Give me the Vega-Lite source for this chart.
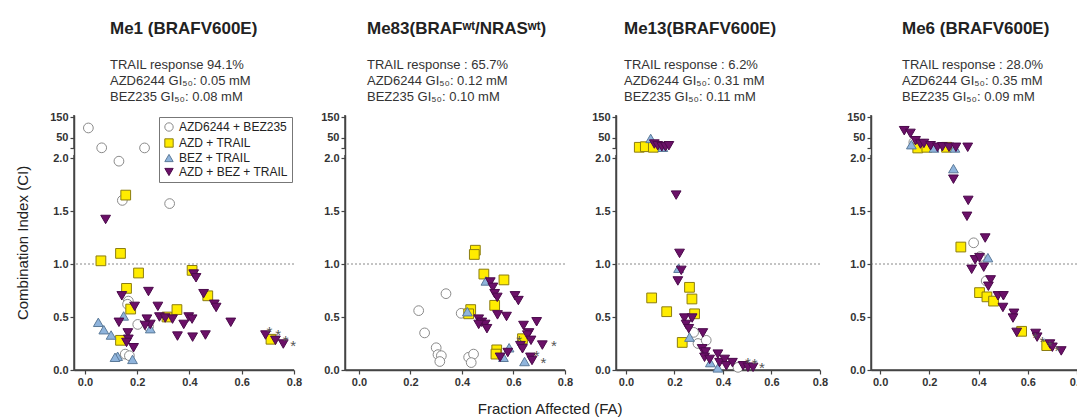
{
"$schema": "https://vega.github.io/schema/vega-lite/v6.json",
"background": "white",
"padding": {"left": 15, "top": 20, "right": 0, "bottom": 4},
"title": {"text": "Fraction Affected (FA)", "orient": "bottom", "anchor": "middle", "fontSize": 15, "fontWeight": "normal", "color": "#222", "dx": 0, "offset": 15},
"bounds": "flush",
"spacing": 51,
"resolve": {"scale": {"shape": "independent", "fill": "independent", "stroke": "independent"}, "legend": {"shape": "independent", "fill": "independent", "stroke": "independent"}},
"hconcat": [
{
 "title": {"text": "Me1 (BRAFV600E)", "subtitle": ["TRAIL response 94.1%", "AZD6244  GI₅₀: 0.05 mM", "BEZ235 GI₅₀: 0.08 mM"], "frame": "group", "fontWeight": "bold", "fontSize": 17, "subtitleFontSize": 13, "subtitleLineHeight": 16, "subtitleColor": "#333", "subtitlePadding": 21, "anchor": "start", "dx": 36, "offset": 6},
 "width": 220, "height": 255,
 "encoding": {
  "y": {"field": "ci", "type": "quantitative", "scale": {"domain": [0, 2, 2.1, 160], "range": [255, 43, 33, 0], "nice": false, "zero": false}, "axis": {"values": [0, 0.5, 1, 1.5, 2, 2.1, 50, 150], "labelExpr": "datum.value == 2.1 ? '' : (datum.value >= 50 ? format(datum.value, 'd') : format(datum.value, '.1f'))", "title": "Combination Index (CI)", "titleFontSize": 15, "titleFontWeight": "normal", "titleColor": "#222", "titlePadding": 19, "labelOverlap": false, "labelFlush": false, "labelFontWeight": "bold", "domain": true, "ticks": true, "domainColor": "#444", "tickColor": "#444"}}
 },
 "layer": [
  {"data": {"values": [{"ci": 1}]}, "mark": {"type": "rule", "color": "#888", "strokeDash": [2, 2], "strokeWidth": 1}, "encoding": {}},
  {"data": {"values": [{"ci": 0}]}, "mark": {"type": "rule", "color": "#444", "strokeWidth": 1.5}, "encoding": {}},
  {"data": {"values": [{"fa": -0.042, "ci": 0, "ci_top": 2.03}, {"fa": -0.042, "ci": 2.09, "ci_top": 160}]}, "mark": {"type": "rule", "color": "#444", "strokeWidth": 1.5}, "encoding": {"x": {"field": "fa", "type": "quantitative"}, "y2": {"field": "ci_top"}}},
  {"data": {"name": "pts"}, "transform": [{"filter": "datum.cell == 'Me1'"}],
   "mark": {"type": "point", "filled": true, "size": 95, "strokeWidth": 1, "opacity": 1},
   "encoding": {
    "x": {"field": "fa", "type": "quantitative", "scale": {"domain": [-0.042, 0.8], "nice": false, "zero": false}, "axis": {"values": [0, 0.2, 0.4, 0.6, 0.8], "format": ".1f", "title": null, "labelFlush": false, "labelFontWeight": "bold", "domain": true, "ticks": true, "domainColor": "#444", "tickColor": "#444"}},
    "shape": {"field": "combo", "type": "nominal", "scale": {"domain": ["AZD6244 + BEZ235", "AZD + TRAIL", "BEZ + TRAIL", "AZD + BEZ + TRAIL"], "range": ["circle", "square", "triangle-up", "triangle-down"]}, "legend": {"orient": "top-right", "offset": 2, "title": null}},
    "fill": {"field": "combo", "type": "nominal", "scale": {"domain": ["AZD6244 + BEZ235", "AZD + TRAIL", "BEZ + TRAIL", "AZD + BEZ + TRAIL"], "range": ["#ffffff", "#ffec00", "#8fb4dc", "#6b1068"]}, "legend": {"orient": "top-right", "offset": 2, "title": null}},
    "stroke": {"field": "combo", "type": "nominal", "scale": {"domain": ["AZD6244 + BEZ235", "AZD + TRAIL", "BEZ + TRAIL", "AZD + BEZ + TRAIL"], "range": ["#8a8a8a", "#8c7d10", "#5b7a99", "#4b0a4b"]}, "legend": {"orient": "top-right", "offset": 2, "title": null}}
   }},
  {"data": {"name": "stars"}, "transform": [{"filter": "datum.cell == 'Me1'"}], "mark": {"type": "text", "text": "*", "fontSize": 15, "color": "#555", "dy": 4}, "encoding": {"x": {"field": "fa", "type": "quantitative"}}}
 ]
},
{
 "title": {"text": "Me83(BRAFʷᵗ/NRASʷᵗ)", "subtitle": ["TRAIL response : 65.7%", "AZD6244  GI₅₀: 0.12 mM", "BEZ235 GI₅₀: 0.10 mM"], "frame": "group", "fontWeight": "bold", "fontSize": 17, "subtitleFontSize": 13, "subtitleLineHeight": 16, "subtitleColor": "#333", "subtitlePadding": 21, "anchor": "start", "dx": 22, "offset": 6},
 "width": 220, "height": 255,
 "encoding": {
  "y": {"field": "ci", "type": "quantitative", "scale": {"domain": [0, 2, 2.1, 160], "range": [255, 43, 33, 0], "nice": false, "zero": false}, "axis": {"values": [0, 0.5, 1, 1.5, 2, 2.1, 50, 150], "labelExpr": "datum.value == 2.1 ? '' : (datum.value >= 50 ? format(datum.value, 'd') : format(datum.value, '.1f'))", "title": null, "labelOverlap": false, "labelFlush": false, "labelFontWeight": "bold", "domain": true, "ticks": true, "domainColor": "#444", "tickColor": "#444"}}
 },
 "layer": [
  {"data": {"values": [{"ci": 1}]}, "mark": {"type": "rule", "color": "#888", "strokeDash": [2, 2], "strokeWidth": 1}, "encoding": {}},
  {"data": {"values": [{"ci": 0}]}, "mark": {"type": "rule", "color": "#444", "strokeWidth": 1.5}, "encoding": {}},
  {"data": {"values": [{"fa": -0.054, "ci": 0, "ci_top": 2.03}, {"fa": -0.054, "ci": 2.09, "ci_top": 160}]}, "mark": {"type": "rule", "color": "#444", "strokeWidth": 1.5}, "encoding": {"x": {"field": "fa", "type": "quantitative"}, "y2": {"field": "ci_top"}}},
  {"data": {"name": "pts"}, "transform": [{"filter": "datum.cell == 'Me83'"}],
   "mark": {"type": "point", "filled": true, "size": 95, "strokeWidth": 1, "opacity": 1},
   "encoding": {
    "x": {"field": "fa", "type": "quantitative", "scale": {"domain": [-0.054, 0.8], "nice": false, "zero": false}, "axis": {"values": [0, 0.2, 0.4, 0.6, 0.8], "format": ".1f", "title": null, "labelFlush": false, "labelFontWeight": "bold", "domain": true, "ticks": true, "domainColor": "#444", "tickColor": "#444"}},
    "shape": {"field": "combo", "type": "nominal", "scale": {"domain": ["AZD6244 + BEZ235", "AZD + TRAIL", "BEZ + TRAIL", "AZD + BEZ + TRAIL"], "range": ["circle", "square", "triangle-up", "triangle-down"]}, "legend": null},
    "fill": {"field": "combo", "type": "nominal", "scale": {"domain": ["AZD6244 + BEZ235", "AZD + TRAIL", "BEZ + TRAIL", "AZD + BEZ + TRAIL"], "range": ["#ffffff", "#ffec00", "#8fb4dc", "#6b1068"]}, "legend": null},
    "stroke": {"field": "combo", "type": "nominal", "scale": {"domain": ["AZD6244 + BEZ235", "AZD + TRAIL", "BEZ + TRAIL", "AZD + BEZ + TRAIL"], "range": ["#8a8a8a", "#8c7d10", "#5b7a99", "#4b0a4b"]}, "legend": null}
   }},
  {"data": {"name": "stars"}, "transform": [{"filter": "datum.cell == 'Me83'"}], "mark": {"type": "text", "text": "*", "fontSize": 15, "color": "#555", "dy": 4}, "encoding": {"x": {"field": "fa", "type": "quantitative"}}}
 ]
},
{
 "title": {"text": "Me13(BRAFV600E)", "subtitle": ["TRAIL response : 6.2%", "AZD6244  GI₅₀: 0.31 mM", "BEZ235 GI₅₀: 0.11 mM"], "frame": "group", "fontWeight": "bold", "fontSize": 17, "subtitleFontSize": 13, "subtitleLineHeight": 16, "subtitleColor": "#333", "subtitlePadding": 21, "anchor": "start", "dx": 8, "offset": 6},
 "width": 204, "height": 255,
 "encoding": {
  "y": {"field": "ci", "type": "quantitative", "scale": {"domain": [0, 2, 2.1, 160], "range": [255, 43, 33, 0], "nice": false, "zero": false}, "axis": {"values": [0, 0.5, 1, 1.5, 2, 2.1, 50, 150], "labelExpr": "datum.value == 2.1 ? '' : (datum.value >= 50 ? format(datum.value, 'd') : format(datum.value, '.1f'))", "title": null, "labelOverlap": false, "labelFlush": false, "labelFontWeight": "bold", "domain": true, "ticks": true, "domainColor": "#444", "tickColor": "#444"}}
 },
 "layer": [
  {"data": {"values": [{"ci": 1}]}, "mark": {"type": "rule", "color": "#888", "strokeDash": [2, 2], "strokeWidth": 1}, "encoding": {}},
  {"data": {"values": [{"ci": 0}]}, "mark": {"type": "rule", "color": "#444", "strokeWidth": 1.5}, "encoding": {}},
  {"data": {"values": [{"fa": -0.041, "ci": 0, "ci_top": 2.03}, {"fa": -0.041, "ci": 2.09, "ci_top": 160}]}, "mark": {"type": "rule", "color": "#444", "strokeWidth": 1.5}, "encoding": {"x": {"field": "fa", "type": "quantitative"}, "y2": {"field": "ci_top"}}},
  {"data": {"name": "pts"}, "transform": [{"filter": "datum.cell == 'Me13'"}],
   "mark": {"type": "point", "filled": true, "size": 95, "strokeWidth": 1, "opacity": 1},
   "encoding": {
    "x": {"field": "fa", "type": "quantitative", "scale": {"domain": [-0.041, 0.8], "nice": false, "zero": false}, "axis": {"values": [0, 0.2, 0.4, 0.6, 0.8], "format": ".1f", "title": null, "labelFlush": false, "labelFontWeight": "bold", "domain": true, "ticks": true, "domainColor": "#444", "tickColor": "#444"}},
    "shape": {"field": "combo", "type": "nominal", "scale": {"domain": ["AZD6244 + BEZ235", "AZD + TRAIL", "BEZ + TRAIL", "AZD + BEZ + TRAIL"], "range": ["circle", "square", "triangle-up", "triangle-down"]}, "legend": null},
    "fill": {"field": "combo", "type": "nominal", "scale": {"domain": ["AZD6244 + BEZ235", "AZD + TRAIL", "BEZ + TRAIL", "AZD + BEZ + TRAIL"], "range": ["#ffffff", "#ffec00", "#8fb4dc", "#6b1068"]}, "legend": null},
    "stroke": {"field": "combo", "type": "nominal", "scale": {"domain": ["AZD6244 + BEZ235", "AZD + TRAIL", "BEZ + TRAIL", "AZD + BEZ + TRAIL"], "range": ["#8a8a8a", "#8c7d10", "#5b7a99", "#4b0a4b"]}, "legend": null}
   }},
  {"data": {"name": "stars"}, "transform": [{"filter": "datum.cell == 'Me13'"}], "mark": {"type": "text", "text": "*", "fontSize": 15, "color": "#555", "dy": 4}, "encoding": {"x": {"field": "fa", "type": "quantitative"}}}
 ]
},
{
 "title": {"text": "Me6 (BRAFV600E)", "subtitle": ["TRAIL response : 28.0%", "AZD6244  GI₅₀: 0.35 mM", "BEZ235 GI₅₀: 0.09 mM"], "frame": "group", "fontWeight": "bold", "fontSize": 17, "subtitleFontSize": 13, "subtitleLineHeight": 16, "subtitleColor": "#333", "subtitlePadding": 21, "anchor": "start", "dx": 31, "offset": 6},
 "width": 206, "height": 255,
 "encoding": {
  "y": {"field": "ci", "type": "quantitative", "scale": {"domain": [0, 2, 2.1, 160], "range": [255, 43, 33, 0], "nice": false, "zero": false}, "axis": {"values": [0, 0.5, 1, 1.5, 2, 2.1, 50, 150], "labelExpr": "datum.value == 2.1 ? '' : (datum.value >= 50 ? format(datum.value, 'd') : format(datum.value, '.1f'))", "title": null, "labelOverlap": false, "labelFlush": false, "labelFontWeight": "bold", "domain": true, "ticks": true, "domainColor": "#444", "tickColor": "#444"}}
 },
 "layer": [
  {"data": {"values": [{"ci": 1}]}, "mark": {"type": "rule", "color": "#888", "strokeDash": [2, 2], "strokeWidth": 1}, "encoding": {}},
  {"data": {"values": [{"ci": 0}]}, "mark": {"type": "rule", "color": "#444", "strokeWidth": 1.5}, "encoding": {}},
  {"data": {"values": [{"fa": -0.037, "ci": 0, "ci_top": 2.03}, {"fa": -0.037, "ci": 2.09, "ci_top": 160}]}, "mark": {"type": "rule", "color": "#444", "strokeWidth": 1.5}, "encoding": {"x": {"field": "fa", "type": "quantitative"}, "y2": {"field": "ci_top"}}},
  {"data": {"name": "pts"}, "transform": [{"filter": "datum.cell == 'Me6'"}],
   "mark": {"type": "point", "filled": true, "size": 95, "strokeWidth": 1, "opacity": 1},
   "encoding": {
    "x": {"field": "fa", "type": "quantitative", "scale": {"domain": [-0.037, 0.8], "nice": false, "zero": false}, "axis": {"values": [0, 0.2, 0.4, 0.6, 0.8], "format": ".1f", "title": null, "labelFlush": false, "labelFontWeight": "bold", "domain": true, "ticks": true, "domainColor": "#444", "tickColor": "#444"}},
    "shape": {"field": "combo", "type": "nominal", "scale": {"domain": ["AZD6244 + BEZ235", "AZD + TRAIL", "BEZ + TRAIL", "AZD + BEZ + TRAIL"], "range": ["circle", "square", "triangle-up", "triangle-down"]}, "legend": null},
    "fill": {"field": "combo", "type": "nominal", "scale": {"domain": ["AZD6244 + BEZ235", "AZD + TRAIL", "BEZ + TRAIL", "AZD + BEZ + TRAIL"], "range": ["#ffffff", "#ffec00", "#8fb4dc", "#6b1068"]}, "legend": null},
    "stroke": {"field": "combo", "type": "nominal", "scale": {"domain": ["AZD6244 + BEZ235", "AZD + TRAIL", "BEZ + TRAIL", "AZD + BEZ + TRAIL"], "range": ["#8a8a8a", "#8c7d10", "#5b7a99", "#4b0a4b"]}, "legend": null}
   }},
  {"data": {"name": "stars"}, "transform": [{"filter": "datum.cell == 'Me6'"}], "mark": {"type": "text", "text": "*", "fontSize": 15, "color": "#555", "dy": 4}, "encoding": {"x": {"field": "fa", "type": "quantitative"}}}
 ]
}
],
"datasets": {
"stars": [
 {"cell": "Me1", "fa": 0.706, "ci": 0.40}, {"cell": "Me1", "fa": 0.739, "ci": 0.365}, {"cell": "Me1", "fa": 0.768, "ci": 0.31}, {"cell": "Me1", "fa": 0.797, "ci": 0.26},
 {"cell": "Me83", "fa": 0.622, "ci": 0.31}, {"cell": "Me83", "fa": 0.757, "ci": 0.26}, {"cell": "Me83", "fa": 0.69, "ci": 0.17}, {"cell": "Me83", "fa": 0.716, "ci": 0.10},
 {"cell": "Me13", "fa": 0.503, "ci": 0.10}, {"cell": "Me13", "fa": 0.531, "ci": 0.09}, {"cell": "Me13", "fa": 0.561, "ci": 0.06},
 {"cell": "Me6", "fa": 0.63, "ci": 0.34}, {"cell": "Me6", "fa": 0.66, "ci": 0.30}, {"cell": "Me6", "fa": 0.69, "ci": 0.265}, {"cell": "Me6", "fa": 0.72, "ci": 0.22}
],
"pts": [
 {"cell": "Me1", "combo": "AZD6244 + BEZ235", "fa": 0.013, "ci": 98},
 {"cell": "Me1", "combo": "AZD6244 + BEZ235", "fa": 0.064, "ci": 3},
 {"cell": "Me1", "combo": "AZD6244 + BEZ235", "fa": 0.13, "ci": 1.97},
 {"cell": "Me1", "combo": "AZD6244 + BEZ235", "fa": 0.228, "ci": 2.5},
 {"cell": "Me1", "combo": "AZD6244 + BEZ235", "fa": 0.324, "ci": 1.57},
 {"cell": "Me1", "combo": "AZD6244 + BEZ235", "fa": 0.143, "ci": 1.60},
 {"cell": "Me1", "combo": "AZD6244 + BEZ235", "fa": 0.166, "ci": 0.65},
 {"cell": "Me1", "combo": "AZD6244 + BEZ235", "fa": 0.163, "ci": 0.62},
 {"cell": "Me1", "combo": "AZD6244 + BEZ235", "fa": 0.202, "ci": 0.43},
 {"cell": "Me1", "combo": "AZD6244 + BEZ235", "fa": 0.154, "ci": 0.15},
 {"cell": "Me1", "combo": "AZD6244 + BEZ235", "fa": 0.17, "ci": 0.135},
 {"cell": "Me1", "combo": "AZD6244 + BEZ235", "fa": 0.243, "ci": 0.41},
 {"cell": "Me1", "combo": "AZD + TRAIL", "fa": 0.156, "ci": 1.65},
 {"cell": "Me1", "combo": "AZD + TRAIL", "fa": 0.061, "ci": 1.03},
 {"cell": "Me1", "combo": "AZD + TRAIL", "fa": 0.136, "ci": 1.10},
 {"cell": "Me1", "combo": "AZD + TRAIL", "fa": 0.159, "ci": 0.77},
 {"cell": "Me1", "combo": "AZD + TRAIL", "fa": 0.175, "ci": 0.575},
 {"cell": "Me1", "combo": "AZD + TRAIL", "fa": 0.205, "ci": 0.915},
 {"cell": "Me1", "combo": "AZD + TRAIL", "fa": 0.136, "ci": 0.28},
 {"cell": "Me1", "combo": "AZD + TRAIL", "fa": 0.314, "ci": 0.50},
 {"cell": "Me1", "combo": "AZD + TRAIL", "fa": 0.352, "ci": 0.57},
 {"cell": "Me1", "combo": "AZD + TRAIL", "fa": 0.41, "ci": 0.94},
 {"cell": "Me1", "combo": "AZD + TRAIL", "fa": 0.47, "ci": 0.70},
 {"cell": "Me1", "combo": "AZD + TRAIL", "fa": 0.712, "ci": 0.29},
 {"cell": "Me1", "combo": "BEZ + TRAIL", "fa": 0.051, "ci": 0.45},
 {"cell": "Me1", "combo": "BEZ + TRAIL", "fa": 0.072, "ci": 0.38},
 {"cell": "Me1", "combo": "BEZ + TRAIL", "fa": 0.10, "ci": 0.33},
 {"cell": "Me1", "combo": "BEZ + TRAIL", "fa": 0.148, "ci": 0.51},
 {"cell": "Me1", "combo": "BEZ + TRAIL", "fa": 0.125, "ci": 0.13},
 {"cell": "Me1", "combo": "BEZ + TRAIL", "fa": 0.115, "ci": 0.12},
 {"cell": "Me1", "combo": "BEZ + TRAIL", "fa": 0.182, "ci": 0.10},
 {"cell": "Me1", "combo": "BEZ + TRAIL", "fa": 0.25, "ci": 0.39},
 {"cell": "Me1", "combo": "AZD + BEZ + TRAIL", "fa": 0.079, "ci": 1.42},
 {"cell": "Me1", "combo": "AZD + BEZ + TRAIL", "fa": 0.141, "ci": 0.70},
 {"cell": "Me1", "combo": "AZD + BEZ + TRAIL", "fa": 0.13, "ci": 0.45},
 {"cell": "Me1", "combo": "AZD + BEZ + TRAIL", "fa": 0.19, "ci": 0.60},
 {"cell": "Me1", "combo": "AZD + BEZ + TRAIL", "fa": 0.164, "ci": 0.35},
 {"cell": "Me1", "combo": "AZD + BEZ + TRAIL", "fa": 0.166, "ci": 0.29},
 {"cell": "Me1", "combo": "AZD + BEZ + TRAIL", "fa": 0.159, "ci": 0.26},
 {"cell": "Me1", "combo": "AZD + BEZ + TRAIL", "fa": 0.186, "ci": 0.21},
 {"cell": "Me1", "combo": "AZD + BEZ + TRAIL", "fa": 0.243, "ci": 0.74},
 {"cell": "Me1", "combo": "AZD + BEZ + TRAIL", "fa": 0.237, "ci": 0.48},
 {"cell": "Me1", "combo": "AZD + BEZ + TRAIL", "fa": 0.25, "ci": 0.43},
 {"cell": "Me1", "combo": "AZD + BEZ + TRAIL", "fa": 0.23, "ci": 0.42},
 {"cell": "Me1", "combo": "AZD + BEZ + TRAIL", "fa": 0.279, "ci": 0.60},
 {"cell": "Me1", "combo": "AZD + BEZ + TRAIL", "fa": 0.285, "ci": 0.50},
 {"cell": "Me1", "combo": "AZD + BEZ + TRAIL", "fa": 0.307, "ci": 0.49},
 {"cell": "Me1", "combo": "AZD + BEZ + TRAIL", "fa": 0.335, "ci": 0.48},
 {"cell": "Me1", "combo": "AZD + BEZ + TRAIL", "fa": 0.354, "ci": 0.32},
 {"cell": "Me1", "combo": "AZD + BEZ + TRAIL", "fa": 0.378, "ci": 0.43},
 {"cell": "Me1", "combo": "AZD + BEZ + TRAIL", "fa": 0.397, "ci": 0.50},
 {"cell": "Me1", "combo": "AZD + BEZ + TRAIL", "fa": 0.41, "ci": 0.48},
 {"cell": "Me1", "combo": "AZD + BEZ + TRAIL", "fa": 0.412, "ci": 0.31},
 {"cell": "Me1", "combo": "AZD + BEZ + TRAIL", "fa": 0.416, "ci": 0.905},
 {"cell": "Me1", "combo": "AZD + BEZ + TRAIL", "fa": 0.425, "ci": 0.87},
 {"cell": "Me1", "combo": "AZD + BEZ + TRAIL", "fa": 0.454, "ci": 0.72},
 {"cell": "Me1", "combo": "AZD + BEZ + TRAIL", "fa": 0.461, "ci": 0.33},
 {"cell": "Me1", "combo": "AZD + BEZ + TRAIL", "fa": 0.495, "ci": 0.62},
 {"cell": "Me1", "combo": "AZD + BEZ + TRAIL", "fa": 0.502, "ci": 0.59},
 {"cell": "Me1", "combo": "AZD + BEZ + TRAIL", "fa": 0.558, "ci": 0.45},
 {"cell": "Me1", "combo": "AZD + BEZ + TRAIL", "fa": 0.691, "ci": 0.33},
 {"cell": "Me1", "combo": "AZD + BEZ + TRAIL", "fa": 0.729, "ci": 0.28},
 {"cell": "Me1", "combo": "AZD + BEZ + TRAIL", "fa": 0.759, "ci": 0.245},
 {"cell": "Me83", "combo": "AZD6244 + BEZ235", "fa": 0.232, "ci": 0.56},
 {"cell": "Me83", "combo": "AZD6244 + BEZ235", "fa": 0.338, "ci": 0.72},
 {"cell": "Me83", "combo": "AZD6244 + BEZ235", "fa": 0.255, "ci": 0.35},
 {"cell": "Me83", "combo": "AZD6244 + BEZ235", "fa": 0.30, "ci": 0.21},
 {"cell": "Me83", "combo": "AZD6244 + BEZ235", "fa": 0.307, "ci": 0.145},
 {"cell": "Me83", "combo": "AZD6244 + BEZ235", "fa": 0.32, "ci": 0.135},
 {"cell": "Me83", "combo": "AZD6244 + BEZ235", "fa": 0.314, "ci": 0.08},
 {"cell": "Me83", "combo": "AZD6244 + BEZ235", "fa": 0.397, "ci": 0.535},
 {"cell": "Me83", "combo": "AZD6244 + BEZ235", "fa": 0.426, "ci": 0.12},
 {"cell": "Me83", "combo": "AZD6244 + BEZ235", "fa": 0.445, "ci": 0.15},
 {"cell": "Me83", "combo": "AZD6244 + BEZ235", "fa": 0.436, "ci": 0.07},
 {"cell": "Me83", "combo": "AZD + TRAIL", "fa": 0.452, "ci": 1.13},
 {"cell": "Me83", "combo": "AZD + TRAIL", "fa": 0.448, "ci": 1.09},
 {"cell": "Me83", "combo": "AZD + TRAIL", "fa": 0.485, "ci": 0.905},
 {"cell": "Me83", "combo": "AZD + TRAIL", "fa": 0.563, "ci": 0.85},
 {"cell": "Me83", "combo": "AZD + TRAIL", "fa": 0.527, "ci": 0.61},
 {"cell": "Me83", "combo": "AZD + TRAIL", "fa": 0.434, "ci": 0.57},
 {"cell": "Me83", "combo": "AZD + TRAIL", "fa": 0.426, "ci": 0.53},
 {"cell": "Me83", "combo": "AZD + TRAIL", "fa": 0.535, "ci": 0.19},
 {"cell": "Me83", "combo": "AZD + TRAIL", "fa": 0.532, "ci": 0.15},
 {"cell": "Me83", "combo": "AZD + TRAIL", "fa": 0.635, "ci": 0.295},
 {"cell": "Me83", "combo": "BEZ + TRAIL", "fa": 0.493, "ci": 0.84},
 {"cell": "Me83", "combo": "BEZ + TRAIL", "fa": 0.421, "ci": 0.55},
 {"cell": "Me83", "combo": "BEZ + TRAIL", "fa": 0.583, "ci": 0.21},
 {"cell": "Me83", "combo": "BEZ + TRAIL", "fa": 0.561, "ci": 0.12},
 {"cell": "Me83", "combo": "BEZ + TRAIL", "fa": 0.643, "ci": 0.08},
 {"cell": "Me83", "combo": "AZD + BEZ + TRAIL", "fa": 0.51, "ci": 0.83},
 {"cell": "Me83", "combo": "AZD + BEZ + TRAIL", "fa": 0.52, "ci": 0.78},
 {"cell": "Me83", "combo": "AZD + BEZ + TRAIL", "fa": 0.527, "ci": 0.72},
 {"cell": "Me83", "combo": "AZD + BEZ + TRAIL", "fa": 0.537, "ci": 0.685},
 {"cell": "Me83", "combo": "AZD + BEZ + TRAIL", "fa": 0.606, "ci": 0.70},
 {"cell": "Me83", "combo": "AZD + BEZ + TRAIL", "fa": 0.619, "ci": 0.655},
 {"cell": "Me83", "combo": "AZD + BEZ + TRAIL", "fa": 0.538, "ci": 0.52},
 {"cell": "Me83", "combo": "AZD + BEZ + TRAIL", "fa": 0.573, "ci": 0.505},
 {"cell": "Me83", "combo": "AZD + BEZ + TRAIL", "fa": 0.465, "ci": 0.48},
 {"cell": "Me83", "combo": "AZD + BEZ + TRAIL", "fa": 0.477, "ci": 0.45},
 {"cell": "Me83", "combo": "AZD + BEZ + TRAIL", "fa": 0.49, "ci": 0.43},
 {"cell": "Me83", "combo": "AZD + BEZ + TRAIL", "fa": 0.465, "ci": 0.43},
 {"cell": "Me83", "combo": "AZD + BEZ + TRAIL", "fa": 0.497, "ci": 0.39},
 {"cell": "Me83", "combo": "AZD + BEZ + TRAIL", "fa": 0.639, "ci": 0.42},
 {"cell": "Me83", "combo": "AZD + BEZ + TRAIL", "fa": 0.69, "ci": 0.455},
 {"cell": "Me83", "combo": "AZD + BEZ + TRAIL", "fa": 0.66, "ci": 0.35},
 {"cell": "Me83", "combo": "AZD + BEZ + TRAIL", "fa": 0.654, "ci": 0.33},
 {"cell": "Me83", "combo": "AZD + BEZ + TRAIL", "fa": 0.668, "ci": 0.28},
 {"cell": "Me83", "combo": "AZD + BEZ + TRAIL", "fa": 0.712, "ci": 0.235},
 {"cell": "Me83", "combo": "AZD + BEZ + TRAIL", "fa": 0.627, "ci": 0.23},
 {"cell": "Me83", "combo": "AZD + BEZ + TRAIL", "fa": 0.635, "ci": 0.20},
 {"cell": "Me83", "combo": "AZD + BEZ + TRAIL", "fa": 0.578, "ci": 0.165},
 {"cell": "Me83", "combo": "AZD + BEZ + TRAIL", "fa": 0.548, "ci": 0.12},
 {"cell": "Me83", "combo": "AZD + BEZ + TRAIL", "fa": 0.666, "ci": 0.12},
 {"cell": "Me83", "combo": "AZD + BEZ + TRAIL", "fa": 0.672, "ci": 0.09},
 {"cell": "Me13", "combo": "AZD6244 + BEZ235", "fa": 0.279, "ci": 0.355},
 {"cell": "Me13", "combo": "AZD6244 + BEZ235", "fa": 0.297, "ci": 0.25},
 {"cell": "Me13", "combo": "AZD6244 + BEZ235", "fa": 0.331, "ci": 0.28},
 {"cell": "Me13", "combo": "AZD6244 + BEZ235", "fa": 0.462, "ci": 0.025},
 {"cell": "Me13", "combo": "AZD + TRAIL", "fa": 0.055, "ci": 5.5},
 {"cell": "Me13", "combo": "AZD + TRAIL", "fa": 0.08, "ci": 8.3},
 {"cell": "Me13", "combo": "AZD + TRAIL", "fa": 0.113, "ci": 5.5},
 {"cell": "Me13", "combo": "AZD + TRAIL", "fa": 0.106, "ci": 0.68},
 {"cell": "Me13", "combo": "AZD + TRAIL", "fa": 0.168, "ci": 0.55},
 {"cell": "Me13", "combo": "AZD + TRAIL", "fa": 0.262, "ci": 0.78},
 {"cell": "Me13", "combo": "AZD + TRAIL", "fa": 0.272, "ci": 0.67},
 {"cell": "Me13", "combo": "AZD + TRAIL", "fa": 0.283, "ci": 0.53},
 {"cell": "Me13", "combo": "AZD + TRAIL", "fa": 0.232, "ci": 0.26},
 {"cell": "Me13", "combo": "BEZ + TRAIL", "fa": 0.102, "ci": 48},
 {"cell": "Me13", "combo": "BEZ + TRAIL", "fa": 0.152, "ci": 5.5},
 {"cell": "Me13", "combo": "BEZ + TRAIL", "fa": 0.217, "ci": 0.96},
 {"cell": "Me13", "combo": "BEZ + TRAIL", "fa": 0.262, "ci": 0.31},
 {"cell": "Me13", "combo": "BEZ + TRAIL", "fa": 0.348, "ci": 0.07},
 {"cell": "Me13", "combo": "BEZ + TRAIL", "fa": 0.379, "ci": 0.02},
 {"cell": "Me13", "combo": "AZD + BEZ + TRAIL", "fa": 0.117, "ci": 21},
 {"cell": "Me13", "combo": "AZD + BEZ + TRAIL", "fa": 0.131, "ci": 13},
 {"cell": "Me13", "combo": "AZD + BEZ + TRAIL", "fa": 0.148, "ci": 8},
 {"cell": "Me13", "combo": "AZD + BEZ + TRAIL", "fa": 0.163, "ci": 8},
 {"cell": "Me13", "combo": "AZD + BEZ + TRAIL", "fa": 0.177, "ci": 13},
 {"cell": "Me13", "combo": "AZD + BEZ + TRAIL", "fa": 0.207, "ci": 1.65},
 {"cell": "Me13", "combo": "AZD + BEZ + TRAIL", "fa": 0.221, "ci": 1.10},
 {"cell": "Me13", "combo": "AZD + BEZ + TRAIL", "fa": 0.228, "ci": 0.94},
 {"cell": "Me13", "combo": "AZD + BEZ + TRAIL", "fa": 0.214, "ci": 0.84},
 {"cell": "Me13", "combo": "AZD + BEZ + TRAIL", "fa": 0.241, "ci": 0.49},
 {"cell": "Me13", "combo": "AZD + BEZ + TRAIL", "fa": 0.273, "ci": 0.49},
 {"cell": "Me13", "combo": "AZD + BEZ + TRAIL", "fa": 0.248, "ci": 0.43},
 {"cell": "Me13", "combo": "AZD + BEZ + TRAIL", "fa": 0.259, "ci": 0.39},
 {"cell": "Me13", "combo": "AZD + BEZ + TRAIL", "fa": 0.317, "ci": 0.35},
 {"cell": "Me13", "combo": "AZD + BEZ + TRAIL", "fa": 0.314, "ci": 0.20},
 {"cell": "Me13", "combo": "AZD + BEZ + TRAIL", "fa": 0.328, "ci": 0.17},
 {"cell": "Me13", "combo": "AZD + BEZ + TRAIL", "fa": 0.324, "ci": 0.12},
 {"cell": "Me13", "combo": "AZD + BEZ + TRAIL", "fa": 0.345, "ci": 0.10},
 {"cell": "Me13", "combo": "AZD + BEZ + TRAIL", "fa": 0.379, "ci": 0.15},
 {"cell": "Me13", "combo": "AZD + BEZ + TRAIL", "fa": 0.386, "ci": 0.07},
 {"cell": "Me13", "combo": "AZD + BEZ + TRAIL", "fa": 0.407, "ci": 0.10},
 {"cell": "Me13", "combo": "AZD + BEZ + TRAIL", "fa": 0.414, "ci": 0.04},
 {"cell": "Me13", "combo": "AZD + BEZ + TRAIL", "fa": 0.439, "ci": 0.07},
 {"cell": "Me13", "combo": "AZD + BEZ + TRAIL", "fa": 0.483, "ci": 0.04},
 {"cell": "Me13", "combo": "AZD + BEZ + TRAIL", "fa": 0.503, "ci": 0.025},
 {"cell": "Me13", "combo": "AZD + BEZ + TRAIL", "fa": 0.524, "ci": 0.025},
 {"cell": "Me6", "combo": "AZD6244 + BEZ235", "fa": 0.137, "ci": 29},
 {"cell": "Me6", "combo": "AZD6244 + BEZ235", "fa": 0.38, "ci": 1.20},
 {"cell": "Me6", "combo": "AZD6244 + BEZ235", "fa": 0.407, "ci": 1.07},
 {"cell": "Me6", "combo": "AZD6244 + BEZ235", "fa": 0.431, "ci": 0.84},
 {"cell": "Me6", "combo": "AZD + TRAIL", "fa": 0.153, "ci": 2.2},
 {"cell": "Me6", "combo": "AZD + TRAIL", "fa": 0.19, "ci": 5.5},
 {"cell": "Me6", "combo": "AZD + TRAIL", "fa": 0.27, "ci": 5.5},
 {"cell": "Me6", "combo": "AZD + TRAIL", "fa": 0.328, "ci": 1.16},
 {"cell": "Me6", "combo": "AZD + TRAIL", "fa": 0.404, "ci": 0.73},
 {"cell": "Me6", "combo": "AZD + TRAIL", "fa": 0.434, "ci": 0.69},
 {"cell": "Me6", "combo": "AZD + TRAIL", "fa": 0.461, "ci": 0.65},
 {"cell": "Me6", "combo": "AZD + TRAIL", "fa": 0.575, "ci": 0.365},
 {"cell": "Me6", "combo": "AZD + TRAIL", "fa": 0.677, "ci": 0.23},
 {"cell": "Me6", "combo": "BEZ + TRAIL", "fa": 0.127, "ci": 18},
 {"cell": "Me6", "combo": "BEZ + TRAIL", "fa": 0.219, "ci": 2.2},
 {"cell": "Me6", "combo": "BEZ + TRAIL", "fa": 0.304, "ci": 2.2},
 {"cell": "Me6", "combo": "BEZ + TRAIL", "fa": 0.298, "ci": 1.90},
 {"cell": "Me6", "combo": "BEZ + TRAIL", "fa": 0.438, "ci": 1.06},
 {"cell": "Me6", "combo": "AZD + BEZ + TRAIL", "fa": 0.098, "ci": 85},
 {"cell": "Me6", "combo": "AZD + BEZ + TRAIL", "fa": 0.123, "ci": 72},
 {"cell": "Me6", "combo": "AZD + BEZ + TRAIL", "fa": 0.144, "ci": 37},
 {"cell": "Me6", "combo": "AZD + BEZ + TRAIL", "fa": 0.164, "ci": 21},
 {"cell": "Me6", "combo": "AZD + BEZ + TRAIL", "fa": 0.178, "ci": 24},
 {"cell": "Me6", "combo": "AZD + BEZ + TRAIL", "fa": 0.205, "ci": 13},
 {"cell": "Me6", "combo": "AZD + BEZ + TRAIL", "fa": 0.233, "ci": 5.5},
 {"cell": "Me6", "combo": "AZD + BEZ + TRAIL", "fa": 0.253, "ci": 8},
 {"cell": "Me6", "combo": "AZD + BEZ + TRAIL", "fa": 0.28, "ci": 5.5},
 {"cell": "Me6", "combo": "AZD + BEZ + TRAIL", "fa": 0.308, "ci": 5.5},
 {"cell": "Me6", "combo": "AZD + BEZ + TRAIL", "fa": 0.356, "ci": 5.5},
 {"cell": "Me6", "combo": "AZD + BEZ + TRAIL", "fa": 0.298, "ci": 1.80},
 {"cell": "Me6", "combo": "AZD + BEZ + TRAIL", "fa": 0.358, "ci": 1.60},
 {"cell": "Me6", "combo": "AZD + BEZ + TRAIL", "fa": 0.353, "ci": 1.45},
 {"cell": "Me6", "combo": "AZD + BEZ + TRAIL", "fa": 0.427, "ci": 1.245},
 {"cell": "Me6", "combo": "AZD + BEZ + TRAIL", "fa": 0.386, "ci": 1.04},
 {"cell": "Me6", "combo": "AZD + BEZ + TRAIL", "fa": 0.404, "ci": 1.06},
 {"cell": "Me6", "combo": "AZD + BEZ + TRAIL", "fa": 0.421, "ci": 0.97},
 {"cell": "Me6", "combo": "AZD + BEZ + TRAIL", "fa": 0.372, "ci": 0.95},
 {"cell": "Me6", "combo": "AZD + BEZ + TRAIL", "fa": 0.449, "ci": 0.85},
 {"cell": "Me6", "combo": "AZD + BEZ + TRAIL", "fa": 0.44, "ci": 0.79},
 {"cell": "Me6", "combo": "AZD + BEZ + TRAIL", "fa": 0.479, "ci": 0.70},
 {"cell": "Me6", "combo": "AZD + BEZ + TRAIL", "fa": 0.501, "ci": 0.70},
 {"cell": "Me6", "combo": "AZD + BEZ + TRAIL", "fa": 0.499, "ci": 0.59},
 {"cell": "Me6", "combo": "AZD + BEZ + TRAIL", "fa": 0.544, "ci": 0.535},
 {"cell": "Me6", "combo": "AZD + BEZ + TRAIL", "fa": 0.54, "ci": 0.49},
 {"cell": "Me6", "combo": "AZD + BEZ + TRAIL", "fa": 0.555, "ci": 0.355},
 {"cell": "Me6", "combo": "AZD + BEZ + TRAIL", "fa": 0.632, "ci": 0.345},
 {"cell": "Me6", "combo": "AZD + BEZ + TRAIL", "fa": 0.638, "ci": 0.31},
 {"cell": "Me6", "combo": "AZD + BEZ + TRAIL", "fa": 0.69, "ci": 0.245},
 {"cell": "Me6", "combo": "AZD + BEZ + TRAIL", "fa": 0.70, "ci": 0.215},
 {"cell": "Me6", "combo": "AZD + BEZ + TRAIL", "fa": 0.736, "ci": 0.18}
]
},
"config": {
 "view": {"stroke": null},
 "font": "Liberation Sans",
 "axis": {"labelFont": "Liberation Sans", "labelFontWeight": "bold", "labelFontSize": 11, "labelColor": "#333", "labelPadding": 2, "domainWidth": 1.5, "tickSize": 4, "tickWidth": 1.2, "grid": false, "titleFont": "Liberation Sans"},
 "title": {"font": "Liberation Sans", "color": "#222", "subtitleFont": "Liberation Sans"},
 "legend": {"labelFont": "Liberation Sans", "labelFontSize": 12, "labelColor": "#222", "strokeColor": "#777", "fillColor": "white", "padding": 4, "rowPadding": 2, "symbolSize": 70, "symbolStrokeWidth": 1}
}
}
